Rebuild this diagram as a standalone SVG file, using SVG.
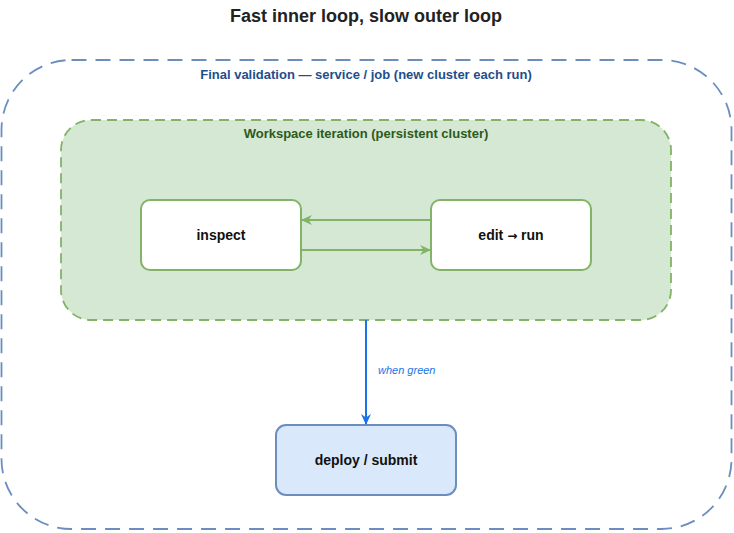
<svg xmlns="http://www.w3.org/2000/svg" width="734" height="533" viewBox="0 0 734 533">
<style>
text{font-family:"Liberation Sans",Arial,sans-serif;}
.t{font-size:18px;font-weight:bold;fill:#222;text-anchor:middle;}
.gl{font-size:13px;font-weight:bold;text-anchor:middle;}
.nl{font-size:14px;font-weight:bold;fill:#111;text-anchor:middle;}
.g{fill:#fff;stroke:#82b366;stroke-width:2;}
</style>
<defs>
<marker id="ag" viewBox="0 0 10 10" refX="9" refY="5" markerWidth="11" markerHeight="11" markerUnits="userSpaceOnUse" orient="auto"><path d="M0,0.5 L10,5 L0,9.5 L3,5 z" fill="#82b366"/></marker>
<marker id="ab" viewBox="0 0 10 10" refX="9" refY="5" markerWidth="11" markerHeight="11" markerUnits="userSpaceOnUse" orient="auto"><path d="M0,0.5 L10,5 L0,9.5 L3,5 z" fill="#1a73e8"/></marker>
</defs>
<text class="t" x="366" y="22">Fast inner loop, slow outer loop</text>
<g id="outer">
<rect x="1.5" y="60" width="730" height="469" rx="70" fill="none" stroke="#6c8ebf" stroke-width="1.8" stroke-dasharray="15 9"/>
<text class="gl" x="366" y="79" fill="#1f4e8c">Final validation — service / job (new cluster each run)</text>
</g>
<g id="workspace">
<rect x="61" y="120" width="610" height="200" rx="30" fill="#d5e8d4" stroke="#82b366" stroke-width="1.8" stroke-dasharray="10 6"/>
<text class="gl" x="366" y="138" fill="#2d5a1b">Workspace iteration (persistent cluster)</text>
</g>
<g id="inspect">
<rect class="g" x="141" y="200" width="160" height="70" rx="9"/>
<text class="nl" x="221" y="240">inspect</text>
</g>
<g id="editrun">
<rect class="g" x="431" y="200" width="160" height="70" rx="9"/>
<text class="nl" x="511" y="240">edit <tspan font-family="'DejaVu Sans',sans-serif" font-size="12">→</tspan> run</text>
</g>
<g id="deploy">
<rect x="276" y="425" width="180" height="70" rx="10" fill="#dae8fc" stroke="#6c8ebf" stroke-width="2"/>
<text class="nl" x="366" y="465">deploy / submit</text>
</g>
<g id="connectors">
<line x1="431" y1="220" x2="302" y2="220" stroke="#82b366" stroke-width="2" marker-end="url(#ag)"/>
<line x1="301" y1="250" x2="430" y2="250" stroke="#82b366" stroke-width="2" marker-end="url(#ag)"/>
<line x1="366" y1="320" x2="366" y2="424" stroke="#1a73e8" stroke-width="2" marker-end="url(#ab)"/>
<text x="378" y="374" font-size="11" font-style="italic" fill="#1a73e8">when green</text>
</g>
</svg>
